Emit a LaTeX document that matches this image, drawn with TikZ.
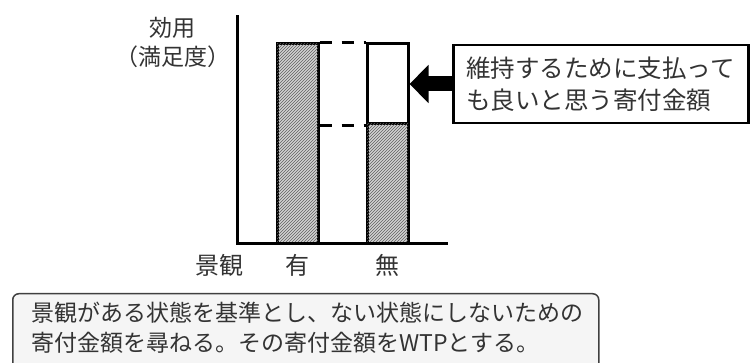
\documentclass[tikz,border=0pt]{standalone}
\usepackage{fontspec}
\setmainfont{Noto Sans CJK JP}
\usetikzlibrary{patterns,arrows.meta}
\tikzset{
  hatched/.style={draw=black, line width=3pt, fill=gray!35, postaction={pattern=north east lines, pattern color=gray!75!black}},
  plainbar/.style={draw=black, line width=3pt, fill=white},
  axis/.style={line width=3pt, line cap=rect},
  guide/.style={line width=3pt, dash pattern=on 12pt off 10pt},
  lbl/.style={inner sep=0pt, text=black!80, font=\fontsize{24}{30}\selectfont},
  callout/.style={draw=black, line width=2.5pt, fill=white, anchor=west, minimum width=295pt, minimum height=78pt, inner xsep=13pt, text width=269pt, align=left, text=black!80, font=\fontsize{24.5}{32}\selectfont},
  note/.style={draw=black!75, line width=1.5pt, fill=black!4, rounded corners=6pt, anchor=north west, minimum width=586pt, minimum height=95pt},
  notetext/.style={inner sep=0pt, anchor=west, align=left, text=black!80, font=\fontsize{23}{30}\selectfont},
}
\begin{document}
\begin{tikzpicture}[x=1pt,y=-1pt]
\useasboundingbox (0,0) rectangle (755,363);
\clip (0,0) rectangle (755,363);
% bars
\node[hatched, minimum width=41pt, minimum height=200pt, inner sep=0pt] (bar1) at (297.5,144) {};
\node[plainbar, minimum width=41pt, minimum height=80pt, inner sep=0pt] (bar2top) at (387.5,84) {};
\node[hatched, minimum width=41pt, minimum height=120pt, inner sep=0pt] (bar2bot) at (387.5,184) {};
% axes
\coordinate (origin) at (237,244);
\coordinate (ytop) at (237,17);
\coordinate (xend) at (446,244);
\draw[axis] (ytop) -- (origin) -- (xend);
% dashed guides
\draw[guide] (bar1.north east) -- (bar2top.north west);
\draw[guide] (bar1.east |- bar2top.south) -- (bar2top.south west);
% labels
\node[lbl, font=\fontsize{23}{29}\selectfont] (ylab1) at (172,28) {効用};
\node[lbl, font=\fontsize{23}{29}\selectfont] (ylab2) at (173,57) {（満足度）};
\node[lbl] (xlab) at (219,265) {景観};
\node[lbl] (yes) at (bar1 |- 0,265) {有};
\node[lbl] (no) at (bar2bot |- 0,265) {無};
% callout
\node[callout] (box) at (452,84) {維持するために支払って\\も良いと思う寄付金額};
\draw[line width=15pt, -{Triangle[length=19pt,width=37pt]}] (box.west) -- (bar2top.east);
% bottom note
\node[note] (notebox) at (12,293) {};
\node[notetext] (notetxt) at (31,328) {景観がある状態を基準とし、ない状態にしないための\\寄付金額を尋ねる。その寄付金額をWTPとする。};
\end{tikzpicture}
\end{document}
